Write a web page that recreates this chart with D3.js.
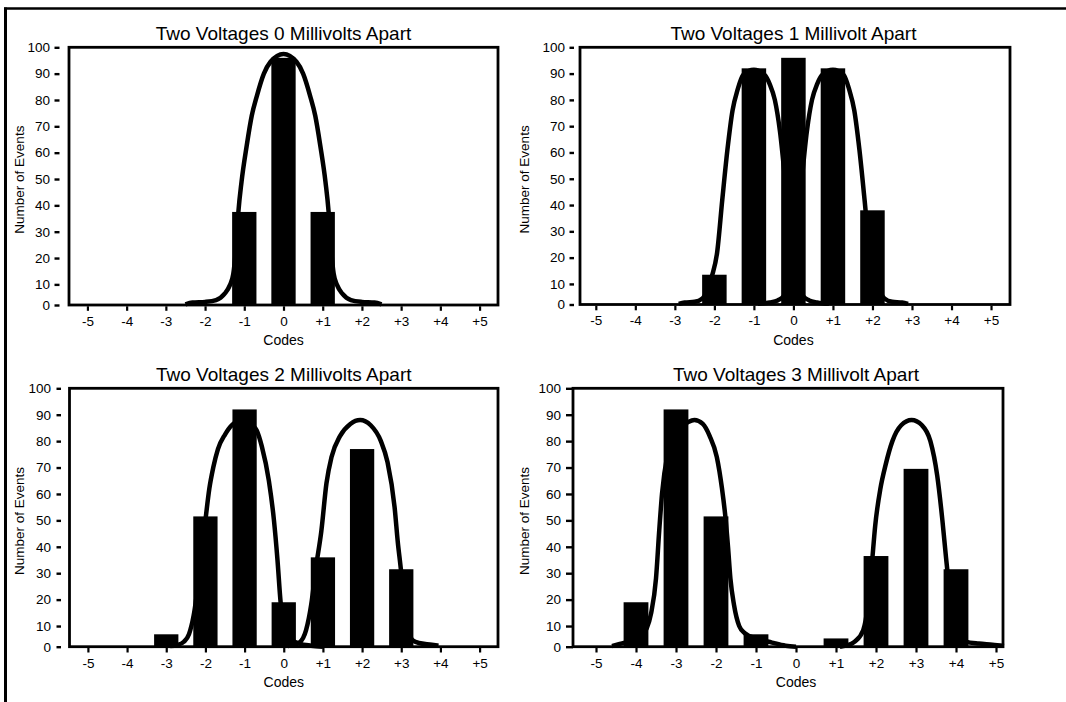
<!DOCTYPE html>
<html>
<head>
<meta charset="utf-8">
<script src="https://cdn.jsdelivr.net/npm/d3@7/dist/d3.min.js"></script>
<style>
    body { margin: 0; background: #fff; }
    svg { display: block; font-family: "Liberation Sans", Arial, Helvetica, sans-serif; }
</style>
</head>
<body>
<svg id="chart" width="1066" height="702"></svg>
<script>
(function() {
    // codes on the x axis and their printed labels
    var codes = [-5, -4, -3, -2, -1, 0, 1, 2, 3, 4, 5];
    var codeLabels = ["-5", "-4", "-3", "-2", "-1", "0", "+1", "+2", "+3", "+4", "+5"];
    var countTicks = [0, 10, 20, 30, 40, 50, 60, 70, 80, 90, 100];

    var titles = [
        "Two Voltages 0 Millivolts Apart",
        "Two Voltages 1 Millivolt Apart",
        "Two Voltages 2 Millivolts Apart",
        "Two Voltages 3 Millivolt Apart"
    ];

    // number of events for each code (-5 .. +5)
    var bars0mV = [0, 0, 0, 0, 37.5, 96, 37.5, 0, 0, 0, 0];
    var bars1mV = [0, 0, 0, 13.5, 92, 96, 92, 38, 0, 0, 0];
    var bars2mV = [0, 0, 6, 51.5, 92, 19, 36, 77, 31.5, 0, 0];
    var bars3mV = [0, 19, 92, 51.5, 6, 0, 4, 36.5, 69.5, 31.5, 0];

    // distribution curves, [code, events]
    var curve0mV = [[-2.5, 0.3], [-2.32, 1.2], [-2.0, 1.5], [-1.72, 2.4], [-1.5, 5.5], [-1.37, 9.5],
        [-1.28, 14], [-1.2, 26], [-1.15, 37.6], [-1.07, 49], [-0.94, 62.5], [-0.81, 74], [-0.68, 81.5],
        [-0.5, 90], [-0.33, 94.5], [0, 97.5], [0.33, 94.5], [0.5, 90], [0.68, 81.5], [0.81, 74],
        [0.94, 62.5], [1.07, 49], [1.15, 37.6], [1.2, 26], [1.28, 14], [1.37, 9.5], [1.5, 5.5],
        [1.72, 2.4], [2.0, 1.5], [2.32, 1.2], [2.5, 0.3]];

    var curve1mvLow = [[-2.9, 0.3], [-2.75, 1], [-2.5, 1.3], [-2.3, 3], [-2.15, 8], [-2.06, 13],
        [-1.93, 22], [-1.8, 42], [-1.67, 61], [-1.54, 76], [-1.41, 84], [-1.27, 89.5], [-1.0, 91.5],
        [-0.73, 89.5], [-0.6, 86], [-0.47, 80], [-0.34, 68], [-0.2, 48], [-0.05, 25], [0.1, 10],
        [0.25, 4], [0.4, 2], [0.6, 1], [0.9, 0.3]];
    var curve1mvHigh = [[-0.9, 0.3], [-0.6, 1], [-0.4, 2], [-0.25, 4], [-0.1, 10], [0.05, 25],
        [0.2, 48], [0.34, 68], [0.47, 80], [0.6, 86], [0.73, 89.5], [1.0, 91.5], [1.27, 89.5],
        [1.41, 84], [1.54, 76], [1.67, 61], [1.8, 42], [1.93, 22], [2.06, 13], [2.15, 8], [2.3, 3],
        [2.5, 1.3], [2.75, 1], [2.9, 0.3]];

    var curve2mvLow = [[-2.9, 0.3], [-2.72, 0.8], [-2.55, 2.4], [-2.42, 6], [-2.3, 14], [-2.15, 30],
        [-2.0, 50], [-1.9, 62], [-1.8, 70], [-1.68, 77], [-1.5, 82.5], [-1.33, 86], [-1.05, 88],
        [-0.8, 86], [-0.69, 84], [-0.56, 78], [-0.38, 65], [-0.25, 50], [-0.16, 35], [-0.08, 19],
        [0.05, 8], [0.2, 3.5], [0.4, 1.5], [0.7, 0.5], [1.0, 0]];
    var curve2mvHigh = [[0.1, 0.3], [0.25, 1], [0.4, 2], [0.57, 8], [0.7, 18], [0.82, 32], [0.96, 46],
        [1.09, 64], [1.22, 74], [1.44, 82], [1.7, 86.5], [1.95, 88], [2.22, 86], [2.48, 80],
        [2.65, 72], [2.83, 55], [2.91, 42], [3.0, 30], [3.08, 16], [3.17, 7], [3.3, 3], [3.45, 1.8],
        [3.78, 1], [3.95, 0.5]];

    var curve3mvLow = [[-4.6, 0.3], [-4.43, 1.2], [-4.2, 2.5], [-4.0, 4], [-3.85, 6], [-3.73, 9],
        [-3.62, 15], [-3.5, 28], [-3.42, 46], [-3.35, 60], [-3.2, 76], [-3.0, 84], [-2.72, 87],
        [-2.54, 88], [-2.33, 86.5], [-2.16, 82], [-1.98, 74], [-1.85, 62], [-1.77, 52], [-1.7, 40],
        [-1.64, 28], [-1.55, 18], [-1.42, 10], [-1.28, 6.5], [-1.0, 4], [-0.6, 2], [-0.26, 0.5], [0, 0]];
    var curve3mvHigh = [[1.1, 0], [1.25, 0.5], [1.47, 2.5], [1.68, 8], [1.8, 18], [1.9, 34], [1.98, 48],
        [2.11, 62], [2.24, 71], [2.41, 80], [2.63, 86], [2.89, 88], [3.15, 86], [3.36, 80], [3.53, 67],
        [3.66, 50], [3.75, 36], [3.85, 22], [3.95, 12], [4.1, 5], [4.24, 2.5], [4.57, 1.5], [4.91, 1],
        [5.2, 0.4]];

    var panelBars = [bars0mV, bars1mV, bars2mV, bars3mV];
    var panelCurves = [[curve0mV], [curve1mvLow, curve1mvHigh], [curve2mvLow, curve2mvHigh], [curve3mvLow, curve3mvHigh]];

    // where each panel sits on the page
    var layout = [
        {left: 69, top: 47.3, right: 498, bottom: 305, xDomain: [-5.47, 5.47], tickOuter: 54.5, tickInner: 59.5, labelX: 50, yTitleX: 19.5},
        {left: 580, top: 47.3, right: 1010, bottom: 304.5, xDomain: [-5.4, 5.48], tickOuter: 569.5, tickInner: 574, labelX: 565, yTitleX: 524.5},
        {left: 69.5, top: 388.3, right: 498, bottom: 646.7, xDomain: [-5.47, 5.47], tickOuter: 56.5, tickInner: 61, labelX: 51, yTitleX: 19.5},
        {left: 573, top: 388.3, right: 1003, bottom: 646.7, xDomain: [-5.575, 5.175], tickOuter: 566, tickInner: 573, labelX: 561, yTitleX: 524.5}
    ];

    var barWidth = 0.62;
    var svg = d3.select("#chart");

    svg.append("rect")
        .attr("width", 1066)
        .attr("height", 702)
        .attr("fill", "#fff");

    // scan frame: top and left edges only
    svg.append("line")
        .attr("x1", 4).attr("x2", 1066)
        .attr("y1", 8.5).attr("y2", 8.5)
        .attr("stroke", "#000").attr("stroke-width", 2.5);
    svg.append("line")
        .attr("x1", 5.5).attr("x2", 5.5)
        .attr("y1", 7.5).attr("y2", 702)
        .attr("stroke", "#000").attr("stroke-width", 3);

    layout.forEach(function(p, i) {
        var g = svg.append("g").attr("class", "panel");

        var x = d3.scaleLinear()
            .domain(p.xDomain)
            .range([p.left, p.right]);

        // the bottom gap (0 to 10) is a bit shorter than the others on the original plot
        var h = p.bottom - p.top;
        var y = d3.scaleLinear()
            .domain([0, 10, 100])
            .range([p.bottom, p.bottom - h * 0.08, p.top]);

        // bars
        var barData = codes.map(function(c, k) { return {code: c, value: panelBars[i][k]}; })
            .filter(function(d) { return d.value > 0; });

        g.selectAll("rect.bar")
            .data(barData)
            .enter().append("rect")
            .attr("class", "bar")
            .attr("x", function(d) { return x(d.code - barWidth / 2); })
            .attr("width", function(d) { return x(d.code + barWidth / 2) - x(d.code - barWidth / 2); })
            .attr("y", function(d) { return y(d.value); })
            .attr("height", function(d) { return y(0) - y(d.value); })
            .attr("fill", "#000");

        // curves
        var line = d3.line()
            .x(function(d) { return x(d[0]); })
            .y(function(d) { return y(d[1]); })
            .curve(d3.curveMonotoneX);

        g.selectAll("path.curve")
            .data(panelCurves[i])
            .enter().append("path")
            .attr("class", "curve")
            .attr("d", line)
            .attr("fill", "none")
            .attr("stroke", "#000")
            .attr("stroke-width", 4.5)
            .attr("stroke-linejoin", "round");

        // frame of the plot
        g.append("rect")
            .attr("x", p.left)
            .attr("y", p.top)
            .attr("width", p.right - p.left)
            .attr("height", p.bottom - p.top)
            .attr("fill", "none")
            .attr("stroke", "#000")
            .attr("stroke-width", 2.8);

        // y axis
        var yAxis = g.append("g")
            .attr("transform", "translate(" + p.tickInner + ",0)")
            .call(d3.axisLeft(y)
                .tickValues(countTicks)
                .tickSize(p.tickInner - p.tickOuter)
                .tickPadding(p.tickOuter - p.labelX));
        yAxis.select(".domain").remove();
        yAxis.selectAll("line").attr("stroke-width", 2.4);
        yAxis.selectAll("text")
            .attr("font-size", 13.5)
            .attr("font-family", "Liberation Sans, Arial, sans-serif")
            .attr("fill", "#000");

        // x axis
        var xAxis = g.append("g")
            .attr("transform", "translate(0," + (p.bottom + 1.3) + ")")
            .call(d3.axisBottom(x)
                .tickValues(codes)
                .tickFormat(function(d, k) { return codeLabels[k]; })
                .tickSize(4.5)
                .tickPadding(5.5));
        xAxis.select(".domain").remove();
        xAxis.selectAll("line").attr("stroke-width", 2.2);
        xAxis.selectAll("text")
            .attr("font-size", 13.5)
            .attr("font-family", "Liberation Sans, Arial, sans-serif")
            .attr("fill", "#000");

        // title and axis titles
        g.append("text")
            .attr("x", x(0))
            .attr("y", p.top - 7.5)
            .attr("text-anchor", "middle")
            .attr("font-size", 19)
            .text(titles[i]);

        g.append("text")
            .attr("x", x(0))
            .attr("y", p.bottom + 40)
            .attr("text-anchor", "middle")
            .attr("font-size", 14)
            .text("Codes");

        g.append("text")
            .attr("transform", "translate(" + p.yTitleX + "," + ((p.top + p.bottom) / 2 + 3.5) + ") rotate(-90)")
            .attr("text-anchor", "middle")
            .attr("dy", "0.35em")
            .attr("font-size", 13.5)
            .text("Number of Events");
    });
})();
</script>
</body>
</html>
